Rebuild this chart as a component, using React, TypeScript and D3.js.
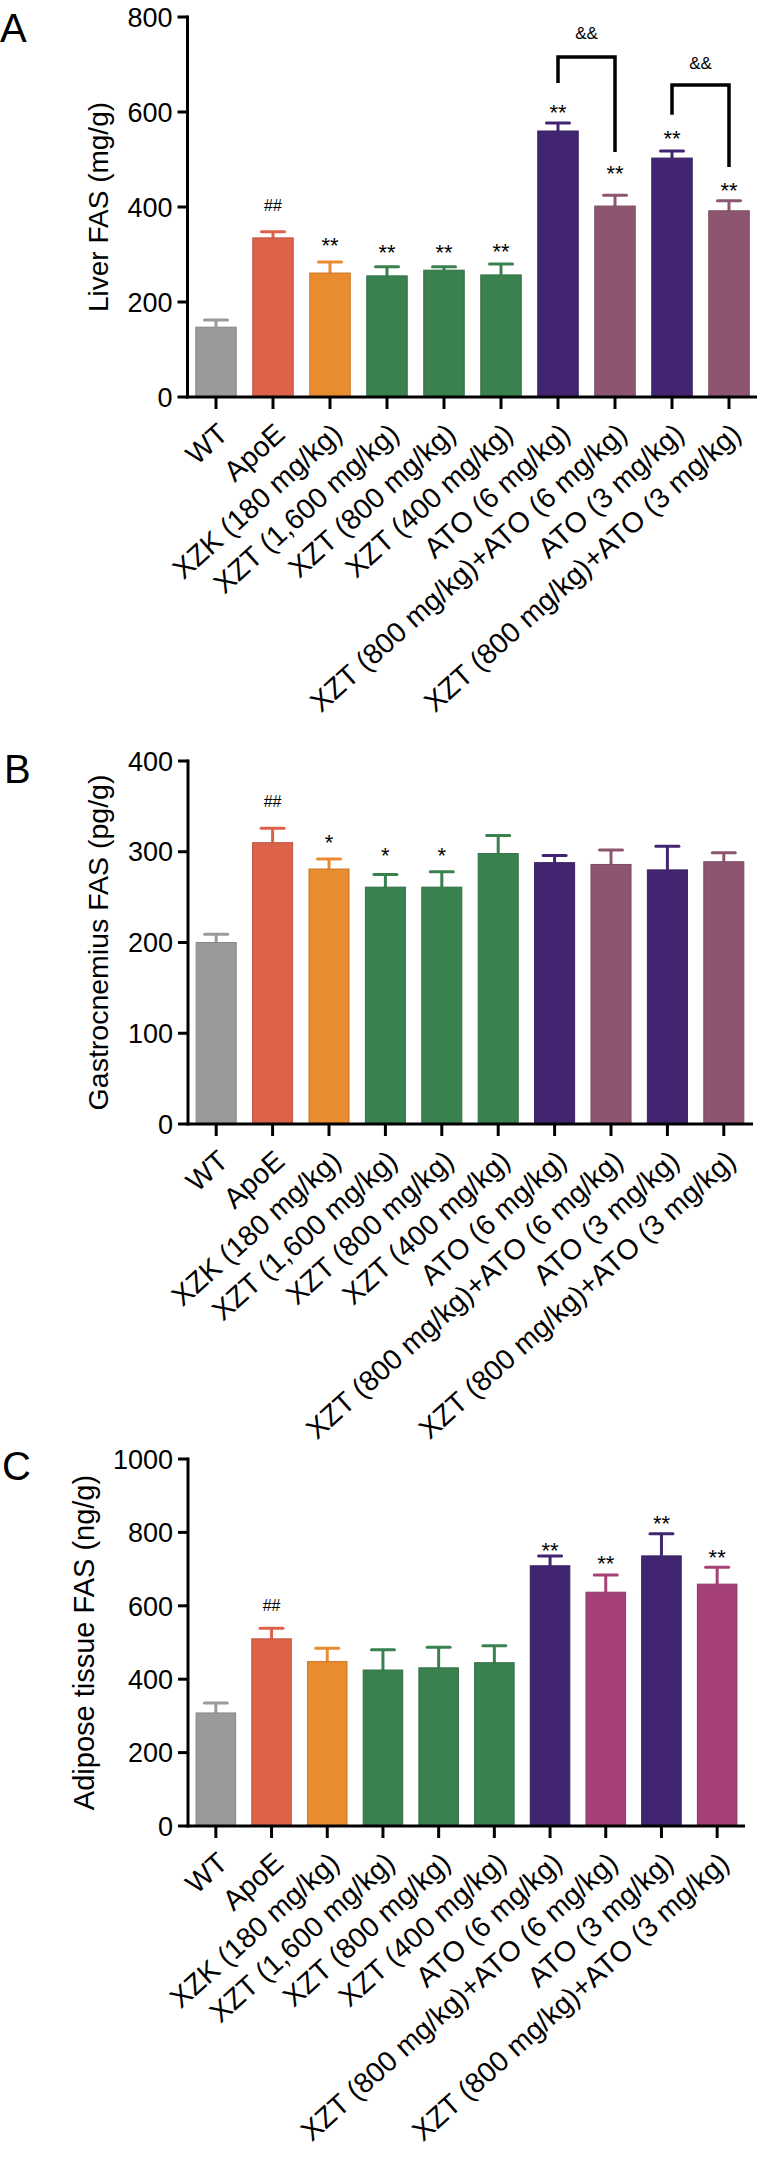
import React from "react";
import * as d3 from "d3";

const categories = [
  "WT",
  "ApoE",
  "XZK (180 mg/kg)",
  "XZT (1,600 mg/kg)",
  "XZT (800 mg/kg)",
  "XZT (400 mg/kg)",
  "ATO (6 mg/kg)",
  "XZT (800 mg/kg)+ATO (6 mg/kg)",
  "ATO (3 mg/kg)",
  "XZT (800 mg/kg)+ATO (3 mg/kg)",
];

// Panel A – Liver FAS (mg/g)
const liverMean = [147, 335, 261, 255, 267, 257, 560, 402, 503, 392];
const liverSem = [15, 13, 23, 19, 7, 23, 17, 23, 15, 21];
const liverSig = ["", "##", "**", "**", "**", "**", "**", "**", "**", "**"];
const liverSigLevel = [0, 404, 331, 316, 316, 318, 611, 482, 556, 446];
const liverTicks = [0, 200, 400, 600, 800];
const liverBrackets = [
  { from: 6, to: 7, top: 716, leftFoot: 661, rightFoot: 516, label: "&&", labelLevel: 766 },
  { from: 8, to: 9, top: 657, leftFoot: 594, rightFoot: 484, label: "&&", labelLevel: 703 },
];

// Panel B – Gastrocnemius FAS (pg/g)
const gastroMean = [200, 310, 281, 261, 261, 298, 288, 286, 280, 289];
const gastroSem = [9, 16, 11, 14, 17, 20, 8, 16, 26, 10];
const gastroSig = ["", "##", "*", "*", "*", "", "", "", "", ""];
const gastroSigLevel = [0, 355, 316, 302, 302, 0, 0, 0, 0, 0];
const gastroTicks = [0, 100, 200, 300, 400];

// Panel C – Adipose tissue FAS (ng/g)
const adiposeMean = [308, 510, 448, 425, 431, 445, 709, 637, 736, 659];
const adiposeSem = [27, 29, 36, 55, 56, 46, 27, 47, 60, 46];
const adiposeSig = ["", "##", "", "", "", "", "**", "**", "**", "**"];
const adiposeSigLevel = [0, 602, 0, 0, 0, 0, 766, 730, 839, 747];
const adiposeTicks = [0, 200, 400, 600, 800, 1000];

const GRAY = "#9a9a9a";
const RED = "#dc624a";
const ORANGE = "#e98b2f";
const GREEN = "#3a8150";
const PURPLE = "#412570";
const MAUVE = "#8d5570";
const MAGENTA = "#a54176";

const colorsAB = [GRAY, RED, ORANGE, GREEN, GREEN, GREEN, PURPLE, MAUVE, PURPLE, MAUVE];
const colorsC = [GRAY, RED, ORANGE, GREEN, GREEN, GREEN, PURPLE, MAGENTA, PURPLE, MAGENTA];

const FONT = "'Liberation Sans', Arial, Helvetica, sans-serif";

type Bracket = {
  from: number; to: number; top: number; leftFoot: number; rightFoot: number;
  label: string; labelLevel: number;
};

type PanelProps = {
  letter: string;
  letterX: number;
  letterY: number;
  yLabel: string;
  yLabelX: number;
  yLabelSize: number;
  yTopPx: number;
  y0Px: number;
  yMax: number;
  ticks: number[];
  xStart: number;
  step: number;
  axisEnd: number;
  means: number[];
  sems: number[];
  sig: string[];
  sigLevel: number[];
  colors: string[];
  brackets?: Bracket[];
};

function Panel(p: PanelProps) {
  const y = d3.scaleLinear().domain([0, p.yMax]).range([p.y0Px, p.yTopPx]);
  const x = d3
    .scaleBand<string>()
    .domain(categories)
    .range([p.xStart, p.xStart + p.step * categories.length])
    .paddingInner(0.29)
    .paddingOuter(0.145);
  const bw = x.bandwidth();
  const cx = (i: number) => (x(categories[i]) as number) + bw / 2;
  const axisX = p.xStart;
  const capW = 23;

  return (
    <g>
      <text x={p.letterX} y={p.letterY} fontSize={40} fontFamily={FONT} fill="#000">
        {p.letter}
      </text>
      <text
        transform={`translate(${p.yLabelX},${(p.y0Px + p.yTopPx) / 2}) rotate(-90)`}
        textAnchor="middle"
        fontSize={p.yLabelSize}
        fontFamily={FONT}
        fill="#000"
      >
        {p.yLabel}
      </text>
      {/* bars */}
      {p.means.map((m, i) => {
        const c = p.colors[i];
        const dark = d3.color(c)!.darker(0.4).formatHex();
        const x0 = x(categories[i]) as number;
        return (
          <g key={"b" + i}>
            <line
              x1={cx(i)}
              x2={cx(i)}
              y1={y(m)}
              y2={y(m + p.sems[i])}
              stroke={c}
              strokeWidth={3}
            />
            <line
              x1={cx(i) - capW / 2}
              x2={cx(i) + capW / 2}
              y1={y(m + p.sems[i])}
              y2={y(m + p.sems[i])}
              stroke={c}
              strokeWidth={3}
              strokeLinecap="round"
            />
            <rect
              x={x0}
              y={y(m)}
              width={bw}
              height={y(0) - y(m)}
              fill={c}
              stroke={dark}
              strokeWidth={1}
            />
          </g>
        );
      })}
      {/* significance marks */}
      {p.sig.map((s, i) => {
        if (!s) return null;
        const isHash = s.startsWith("#");
        const fs = isHash ? 16 : 22;
        const off = isHash ? 0.35 * fs : 0.58 * fs;
        return (
          <text
            key={"s" + i}
            x={cx(i)}
            y={y(p.sigLevel[i]) + off}
            textAnchor="middle"
            fontSize={fs}
            fontFamily={FONT}
            fill="#000"
          >
            {s}
          </text>
        );
      })}
      {/* brackets */}
      {(p.brackets || []).map((b, k) => {
        const xl = cx(b.from);
        const xr = cx(b.to);
        const path = `M${xl},${y(b.leftFoot)}V${y(b.top)}H${xr}V${y(b.rightFoot)}`;
        return (
          <g key={"k" + k}>
            <path d={path} fill="none" stroke="#000" strokeWidth={3.5} />
            <text
              x={(xl + xr) / 2}
              y={y(b.labelLevel) + 6}
              textAnchor="middle"
              fontSize={17}
              fontFamily={FONT}
              fill="#000"
            >
              {b.label}
            </text>
          </g>
        );
      })}
      {/* y axis */}
      <line x1={axisX} x2={axisX} y1={p.yTopPx - 1.5} y2={p.y0Px + 1.5} stroke="#000" strokeWidth={3} />
      {p.ticks.map((t) => (
        <g key={"t" + t}>
          <line x1={axisX - 10} x2={axisX} y1={y(t)} y2={y(t)} stroke="#000" strokeWidth={3} />
          <text
            x={axisX - 15}
            y={y(t)}
            dy="0.36em"
            textAnchor="end"
            fontSize={27}
            fontFamily={FONT}
            fill="#000"
          >
            {t}
          </text>
        </g>
      ))}
      {/* x axis */}
      <line x1={axisX - 1.5} x2={p.axisEnd} y1={p.y0Px} y2={p.y0Px} stroke="#000" strokeWidth={3} />
      {categories.map((c, i) => (
        <g key={"x" + i}>
          <line x1={cx(i)} x2={cx(i)} y1={p.y0Px} y2={p.y0Px + 12} stroke="#000" strokeWidth={3} />
          <text
            transform={`translate(${cx(i) + 7},${p.y0Px + 32}) rotate(-42)`}
            dy="0.35em"
            textAnchor="end"
            fontSize={28.5}
            fontFamily={FONT}
            fill="#000"
          >
            {c}
          </text>
        </g>
      ))}
    </g>
  );
}

export default function App() {
  return (
    <svg
      width={761}
      height={2160}
      viewBox="0 0 761 2160"
      style={{ position: "absolute", left: 0, top: 0, background: "#fff" }}
    >
      <rect x={0} y={0} width={761} height={2160} fill="#fff" />
      <Panel
        letter="A"
        letterX={0}
        letterY={42}
        yLabel="Liver FAS (mg/g)"
        yLabelX={108}
        yLabelSize={28}
        yTopPx={17}
        y0Px={397}
        yMax={800}
        ticks={liverTicks}
        xStart={187.5}
        step={57}
        axisEnd={757}
        means={liverMean}
        sems={liverSem}
        sig={liverSig}
        sigLevel={liverSigLevel}
        colors={colorsAB}
        brackets={liverBrackets}
      />
      <Panel
        letter="B"
        letterX={4}
        letterY={783}
        yLabel="Gastrocnemius FAS (pg/g)"
        yLabelX={108}
        yLabelSize={28.5}
        yTopPx={761}
        y0Px={1124}
        yMax={400}
        ticks={gastroTicks}
        xStart={188}
        step={56.4}
        axisEnd={753}
        means={gastroMean}
        sems={gastroSem}
        sig={gastroSig}
        sigLevel={gastroSigLevel}
        colors={colorsAB}
      />
      <Panel
        letter="C"
        letterX={2}
        letterY={1480}
        yLabel="Adipose tissue FAS (ng/g)"
        yLabelX={94}
        yLabelSize={29}
        yTopPx={1459}
        y0Px={1826}
        yMax={1000}
        ticks={adiposeTicks}
        xStart={188}
        step={55.7}
        axisEnd={745}
        means={adiposeMean}
        sems={adiposeSem}
        sig={adiposeSig}
        sigLevel={adiposeSigLevel}
        colors={colorsC}
      />
    </svg>
  );
}
